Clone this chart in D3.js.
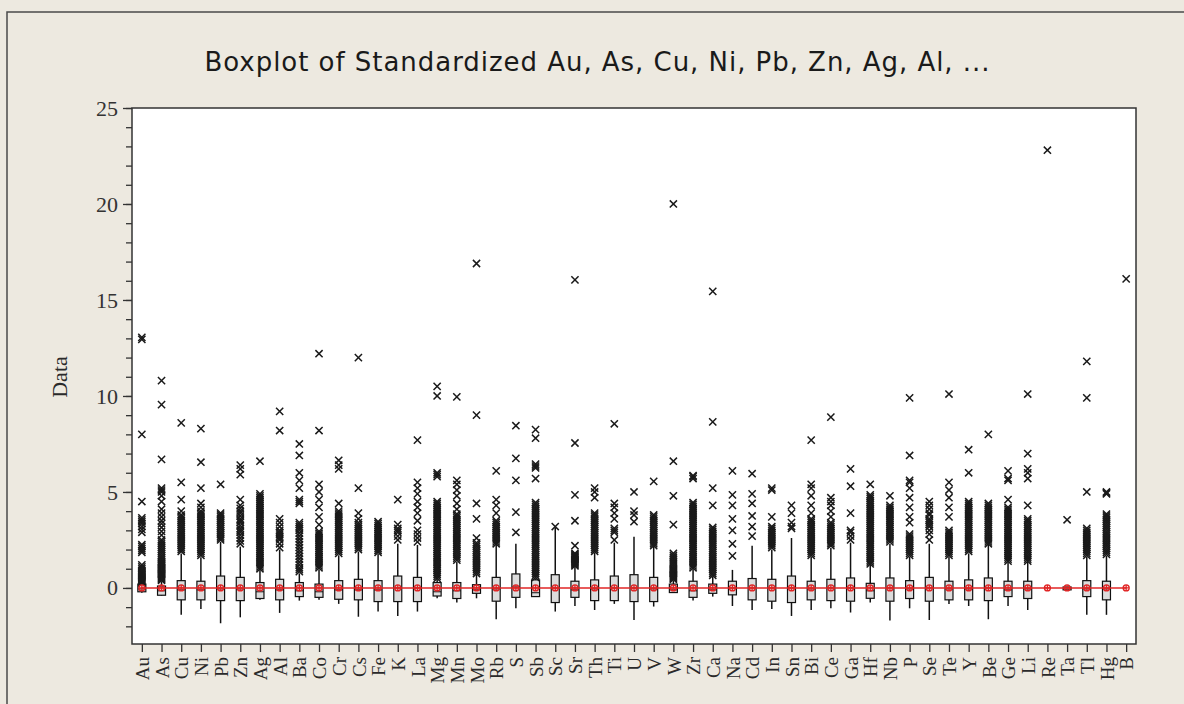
<!DOCTYPE html>
<html>
<head>
<meta charset="utf-8">
<script src="https://cdn.jsdelivr.net/npm/d3@7"></script>
<style>
  html, body { margin: 0; padding: 0; background: #ede9e0; }
  svg { display: block; }
</style>
</head>
<body>
<svg width="1184" height="704"></svg>
<script>
(function() {

// element names, left to right
var elements = ["Au","As","Cu","Ni","Pb","Zn","Ag","Al","Ba","Co","Cr","Cs","Fe","K","La","Mg","Mn","Mo","Rb","S","Sb","Sc","Sr","Th","Ti","U","V","W","Zr","Ca","Na","Cd","In","Sn","Bi","Ce","Ga","Hf","Nb","P","Se","Te","Y","Be","Ge","Li","Re","Ta","Tl","Hg","B"];

// box statistics (standardized values)
var q1 =        [-0.2,-0.38,-0.62,-0.62,-0.66,-0.66,-0.55,-0.62,-0.45,-0.49,-0.59,-0.62,-0.71,-0.71,-0.71,-0.42,-0.55,-0.28,-0.69,-0.49,-0.45,-0.76,-0.49,-0.66,-0.66,-0.71,-0.71,-0.24,-0.49,-0.28,-0.36,-0.62,-0.69,-0.76,-0.62,-0.66,-0.69,-0.54,-0.69,-0.55,-0.69,-0.62,-0.62,-0.66,-0.45,-0.55,0,-0.1,-0.45,-0.62,0];
var median =    [-0.05,-0.15,-0.1,-0.1,-0.05,-0.05,-0.2,-0.1,-0.15,-0.2,-0.1,-0.1,-0.1,0,0,-0.2,-0.15,-0.1,-0.05,0.05,-0.25,0,-0.1,-0.05,0,0,-0.05,-0.1,-0.15,-0.1,0,0,0,0,-0.05,0,0,-0.15,0,-0.05,0,-0.05,-0.05,0,-0.1,-0.05,0,0,-0.05,-0.05,0];
var q3 =        [0.2,0.1,0.38,0.35,0.62,0.55,0.28,0.45,0.28,0.2,0.38,0.45,0.38,0.62,0.55,0.28,0.28,0.17,0.55,0.73,0.42,0.69,0.35,0.42,0.62,0.69,0.55,0.2,0.35,0.2,0.35,0.49,0.45,0.62,0.35,0.45,0.52,0.24,0.52,0.38,0.55,0.35,0.42,0.52,0.35,0.35,0,0.05,0.38,0.35,0];
var whiskerLo = [-0.25,-0.4,-1.4,-1.1,-1.84,-1.53,-0.62,-1.3,-0.66,-0.62,-0.83,-1.5,-1.23,-1.46,-1.23,-0.54,-0.76,-0.54,-1.63,-1.06,-0.45,-1.23,-0.94,-1.15,-0.83,-1.67,-0.97,-0.26,-0.66,-0.45,-0.94,-1.15,-1.1,-1.46,-1.15,-1.06,-1.28,-0.76,-1.7,-1.06,-1.67,-0.83,-0.94,-1.63,-0.94,-1.15,0,-0.1,-1.4,-1.4,0];
var whiskerHi = [0.22,0.35,1.8,1.6,2.4,2.15,0.94,2.0,0.76,0.97,1.7,1.9,1.77,2.3,2.24,0.45,1.37,0.68,2.24,2.3,0.5,3.15,1.1,1.84,2.36,2.67,2.15,0.4,1.0,0.6,0.94,2.2,2.0,2.6,1.63,2.1,2.36,1.2,2.3,1.63,2.3,1.63,1.8,2.24,1.37,1.37,0,0.05,1.63,1.67,0];
var means = [0,0,0,0,0,0,0,0,0,0,0,0,0,0,0,0,0,0,0,0,0,0,0,0,0,0,0,0,0,0,0,0,0,0,0,0,0,0,0,0,0,0,0,0,0,0,0,0,0,0,0];

// outliers per element
var outliers = [
  [0.25,0.3,0.35,0.4,0.45,0.5,0.55,0.6,0.65,0.7,0.75,0.8,0.85,0.9,1.0,1.1,1.2,1.85,1.95,2.05,2.15,2.25,2.9,3.05,3.2,3.35,3.45,3.55,3.65,4.5,8.0,12.95,13.05],
  [0.4,0.45,0.5,0.55,0.6,0.65,0.7,0.75,0.8,0.85,0.9,0.95,1.0,1.05,1.1,1.15,1.2,1.25,1.3,1.35,1.4,1.5,1.6,1.7,1.8,1.9,2.0,2.1,2.2,2.3,2.4,2.5,2.75,2.95,3.15,3.35,3.5,3.7,3.9,4.1,4.5,4.8,5.0,5.1,5.2,6.7,9.55,10.8],
  [1.9,2.0,2.1,2.2,2.3,2.4,2.5,2.6,2.7,2.8,2.9,3.0,3.1,3.2,3.3,3.4,3.5,3.6,3.7,3.8,4.0,4.6,5.5,8.6],
  [1.7,1.8,1.9,2.0,2.1,2.2,2.3,2.4,2.5,2.6,2.7,2.8,2.9,3.0,3.1,3.2,3.3,3.4,3.5,3.6,3.7,3.8,3.9,4.0,4.2,4.4,5.2,6.55,8.3],
  [2.5,2.6,2.7,2.8,2.9,3.0,3.1,3.2,3.3,3.4,3.5,3.6,3.7,3.8,3.9,5.4],
  [2.3,2.45,2.6,2.75,2.9,3.0,3.1,3.25,3.4,3.5,3.6,3.75,3.9,4.0,4.15,4.3,4.6,5.9,6.2,6.4],
  [1.0,1.1,1.2,1.3,1.4,1.5,1.6,1.7,1.8,1.9,2.0,2.1,2.2,2.3,2.4,2.5,2.6,2.7,2.8,2.9,3.0,3.1,3.2,3.3,3.4,3.5,3.6,3.7,3.8,3.9,4.0,4.1,4.2,4.3,4.4,4.5,4.6,4.7,4.8,4.9,6.6],
  [2.1,2.3,2.5,2.6,2.7,2.8,2.9,3.0,3.2,3.4,3.6,8.2,9.2],
  [0.85,0.95,1.05,1.2,1.35,1.5,1.65,1.8,1.95,2.1,2.25,2.4,2.55,2.7,2.85,3.0,3.1,3.2,3.3,3.4,4.4,4.5,4.6,5.2,5.6,6.0,6.9,7.5],
  [1.05,1.15,1.25,1.35,1.45,1.55,1.65,1.75,1.85,1.95,2.05,2.15,2.25,2.35,2.45,2.55,2.65,2.75,2.85,2.95,3.3,3.7,4.2,4.6,5.0,5.4,8.2,12.2],
  [1.8,1.9,2.0,2.1,2.2,2.3,2.4,2.5,2.6,2.7,2.8,2.9,3.0,3.1,3.2,3.3,3.4,3.5,3.6,3.7,3.8,3.9,4.0,4.4,6.2,6.4,6.65],
  [2.0,2.1,2.2,2.3,2.4,2.5,2.6,2.7,2.8,2.9,3.0,3.1,3.2,3.3,3.4,3.6,3.9,5.2,12.0],
  [1.85,1.95,2.05,2.15,2.25,2.35,2.45,2.55,2.65,2.75,2.85,2.95,3.05,3.15,3.25,3.35,3.45],
  [2.5,2.7,2.9,3.0,3.1,3.3,4.6],
  [2.4,2.6,2.8,3.0,3.5,3.9,4.2,4.5,4.9,5.2,5.5,7.7],
  [0.5,0.6,0.7,0.8,0.9,1.0,1.1,1.2,1.3,1.4,1.5,1.6,1.7,1.8,1.9,2.0,2.1,2.2,2.3,2.4,2.5,2.6,2.7,2.8,2.9,3.0,3.1,3.2,3.3,3.4,3.5,3.6,3.7,3.8,3.9,4.0,4.1,4.2,4.3,4.4,4.5,5.8,5.9,6.0,10.0,10.5],
  [1.45,1.55,1.65,1.75,1.85,1.95,2.05,2.15,2.25,2.35,2.45,2.55,2.65,2.75,2.85,2.95,3.05,3.15,3.25,3.35,3.45,3.55,3.65,3.75,3.85,4.1,4.4,4.8,5.1,5.4,5.6,9.95],
  [0.75,0.85,0.95,1.05,1.15,1.25,1.35,1.45,1.55,1.65,1.75,1.85,1.95,2.05,2.15,2.25,2.35,2.6,3.6,4.4,9.0,16.9],
  [2.3,2.4,2.5,2.6,2.7,2.8,2.9,3.0,3.1,3.2,3.3,3.4,3.5,3.9,4.3,4.6,6.1],
  [2.9,3.95,5.6,6.75,8.45],
  [0.55,0.65,0.75,0.85,0.95,1.05,1.15,1.25,1.35,1.45,1.55,1.65,1.75,1.85,1.95,2.05,2.15,2.25,2.35,2.45,2.55,2.65,2.75,2.85,2.95,3.05,3.15,3.25,3.35,3.45,3.55,3.65,3.75,3.85,3.95,4.05,4.15,4.25,4.35,4.45,5.7,6.25,6.35,6.45,7.8,8.25],
  [3.2],
  [1.15,1.2,1.25,1.3,1.35,1.4,1.45,1.5,1.55,1.6,1.65,1.7,1.75,1.8,2.2,3.5,4.85,7.55,16.05],
  [1.9,2.0,2.1,2.2,2.3,2.4,2.5,2.6,2.7,2.8,2.9,3.0,3.1,3.2,3.3,3.4,3.5,3.6,3.7,3.8,3.9,4.7,5.0,5.2],
  [2.5,2.9,3.0,3.1,3.6,3.9,4.2,4.4,8.55],
  [3.45,3.8,4.0,5.0],
  [2.2,2.3,2.4,2.5,2.6,2.7,2.8,2.9,3.0,3.1,3.2,3.3,3.4,3.5,3.6,3.7,3.8,5.55],
  [0.45,0.5,0.55,0.6,0.65,0.7,0.75,0.8,0.85,0.9,0.95,1.0,1.1,1.2,1.3,1.4,1.5,1.6,1.7,1.8,3.3,4.8,6.6,20.0],
  [1.05,1.15,1.25,1.35,1.45,1.55,1.65,1.75,1.85,1.95,2.05,2.15,2.25,2.35,2.45,2.55,2.65,2.75,2.85,2.95,3.05,3.15,3.25,3.35,3.45,3.55,3.65,3.75,3.85,3.95,4.05,4.15,4.25,4.35,4.45,5.7,5.8,5.85],
  [0.65,0.75,0.85,0.95,1.05,1.15,1.25,1.35,1.45,1.55,1.65,1.75,1.85,1.95,2.05,2.15,2.25,2.35,2.45,2.55,2.65,2.75,2.85,2.95,3.05,3.15,4.3,5.2,8.65,15.45],
  [1.67,2.3,3.0,3.6,4.3,4.85,6.1],
  [2.7,3.2,3.75,4.4,4.9,5.95],
  [2.1,2.2,2.3,2.4,2.5,2.6,2.7,2.8,2.9,3.0,3.1,3.2,3.7,5.1,5.2],
  [3.1,3.2,3.4,3.9,4.3],
  [1.7,1.8,1.9,2.0,2.1,2.2,2.3,2.4,2.5,2.6,2.7,2.8,2.9,3.0,3.1,3.2,3.3,3.4,3.5,3.6,3.9,4.3,4.8,5.2,5.4,7.7],
  [2.2,2.3,2.4,2.5,2.6,2.7,2.8,2.9,3.0,3.1,3.2,3.3,3.4,3.7,4.0,4.3,4.5,4.7,8.9],
  [2.5,2.7,2.9,3.0,3.9,5.3,6.2],
  [1.25,1.35,1.45,1.55,1.65,1.75,1.85,1.95,2.05,2.15,2.25,2.35,2.45,2.55,2.65,2.75,2.85,2.95,3.05,3.15,3.25,3.35,3.45,3.55,3.65,3.75,3.85,3.95,4.05,4.15,4.25,4.35,4.45,4.55,4.65,4.75,4.85,5.4],
  [2.4,2.5,2.6,2.7,2.8,2.9,3.0,3.1,3.2,3.3,3.4,3.5,3.6,3.7,3.8,3.9,4.0,4.1,4.2,4.3,4.8],
  [1.7,1.8,1.9,2.0,2.1,2.2,2.3,2.4,2.5,2.6,2.7,2.8,3.4,3.7,4.2,4.7,5.2,5.5,5.6,6.9,9.9],
  [2.5,2.8,3.0,3.2,3.3,3.4,3.5,3.6,3.8,3.9,4.1,4.3,4.5],
  [1.7,1.8,1.9,2.0,2.1,2.2,2.3,2.4,2.5,2.6,2.7,2.8,2.9,3.0,3.7,4.2,4.7,5.1,5.5,10.1],
  [1.9,2.0,2.1,2.2,2.3,2.4,2.5,2.6,2.7,2.8,2.9,3.0,3.1,3.2,3.3,3.4,3.5,3.6,3.7,3.8,3.9,4.0,4.1,4.2,4.3,4.4,4.5,6.0,7.2],
  [2.3,2.4,2.5,2.6,2.7,2.8,2.9,3.0,3.1,3.2,3.3,3.4,3.5,3.6,3.7,3.8,3.9,4.0,4.1,4.2,4.3,4.4,8.0],
  [1.4,1.5,1.6,1.7,1.8,1.9,2.0,2.1,2.2,2.3,2.4,2.5,2.6,2.7,2.8,2.9,3.0,3.1,3.2,3.3,3.4,3.5,3.6,3.7,3.8,3.9,4.0,4.1,4.2,4.6,5.6,5.7,6.1],
  [1.4,1.5,1.6,1.7,1.8,1.9,2.0,2.1,2.2,2.3,2.4,2.5,2.6,2.7,2.8,2.9,3.0,3.1,3.2,3.3,3.4,3.5,3.6,4.3,5.7,6.0,6.2,7.0,10.1],
  [22.8],
  [3.55],
  [1.7,1.8,1.9,2.0,2.1,2.2,2.3,2.4,2.5,2.6,2.7,2.8,2.9,3.0,3.1,5.0,9.9,11.8],
  [1.75,1.85,1.95,2.05,2.15,2.25,2.35,2.45,2.55,2.65,2.75,2.85,2.95,3.05,3.15,3.25,3.35,3.45,3.55,3.65,3.75,3.85,4.9,4.95,5.0],
  [16.1]
];

var yMajor = [0, 5, 10, 15, 20, 25];

var titleText = "Boxplot of Standardized Au, As, Cu, Ni, Pb, Zn, Ag, Al, ...";

var svg = d3.select("svg"),
    width = 1184,
    height = 704;

var plot = {left: 132, right: 1136, top: 108, bottom: 644};

var serif = "'Liberation Serif', 'Times New Roman', serif";

// page background + outer frame
svg.append("rect").attr("width", width).attr("height", height).attr("fill", "#ede9e0");
svg.append("rect")
    .attr("x", 7).attr("y", 12).attr("width", 1300).attr("height", 900)
    .attr("fill", "none").attr("stroke", "#4a4a4a").attr("stroke-width", 1.5);

svg.append("rect")
    .attr("x", plot.left).attr("y", plot.top)
    .attr("width", plot.right - plot.left).attr("height", plot.bottom - plot.top)
    .attr("fill", "#ffffff");

var x = d3.scalePoint().domain(elements).range([plot.left, plot.right]).padding(0.5);
var y = d3.scaleLinear().domain([-2.92, 25]).range([plot.bottom, plot.top]);

var rows = elements.map(function(e, i) {
    return {name: e, q1: q1[i], med: median[i], q3: q3[i], lo: whiskerLo[i], hi: whiskerHi[i], mean: means[i], out: outliers[i]};
});

var boxW = 8;
var g = svg.append("g");

// whiskers
g.selectAll("line.whisker")
    .data(rows)
    .enter().append("line")
    .attr("class", "whisker")
    .attr("x1", function(d) { return x(d.name); })
    .attr("x2", function(d) { return x(d.name); })
    .attr("y1", function(d) { return y(d.lo); })
    .attr("y2", function(d) { return y(d.hi); })
    .attr("stroke", "#111").attr("stroke-width", 1.5);

// boxes
g.selectAll("rect.box")
    .data(rows.filter(function(d) { return d.q3 > d.q1; }))
    .enter().append("rect")
    .attr("class", "box")
    .attr("x", function(d) { return x(d.name) - boxW / 2; })
    .attr("width", boxW)
    .attr("y", function(d) { return y(d.q3); })
    .attr("height", function(d) { return y(d.q1) - y(d.q3); })
    .attr("fill", "#dcdcdc").attr("stroke", "#111").attr("stroke-width", 1.2);

g.selectAll("line.median")
    .data(rows.filter(function(d) { return d.q3 > d.q1; }))
    .enter().append("line")
    .attr("class", "median")
    .attr("x1", function(d) { return x(d.name) - boxW / 2; })
    .attr("x2", function(d) { return x(d.name) + boxW / 2; })
    .attr("y1", function(d) { return y(d.med); })
    .attr("y2", function(d) { return y(d.med); })
    .attr("stroke", "#111").attr("stroke-width", 1);

// outliers as x symbols
var pts = [];
rows.forEach(function(d) {
    d.out.forEach(function(v) { pts.push({name: d.name, v: v}); });
});
var s = 3.6;
g.selectAll("path.out")
    .data(pts)
    .enter().append("path")
    .attr("class", "out")
    .attr("d", function(d) {
        var cx = x(d.name), cy = y(d.v);
        return "M" + (cx - s) + "," + (cy - s) + "L" + (cx + s) + "," + (cy + s) +
               "M" + (cx - s) + "," + (cy + s) + "L" + (cx + s) + "," + (cy - s);
    })
    .attr("stroke", "#1a1a1a").attr("stroke-width", 1.5).attr("fill", "none");

// mean connect line + mean symbols
var meanLine = d3.line()
    .x(function(d) { return x(d.name); })
    .y(function(d) { return y(d.mean); });

g.append("path")
    .datum(rows)
    .attr("d", meanLine)
    .attr("fill", "none").attr("stroke", "#e02424").attr("stroke-width", 1.6);

var mk = g.selectAll("g.mean").data(rows).enter().append("g")
    .attr("class", "mean")
    .attr("transform", function(d) { return "translate(" + x(d.name) + "," + y(d.mean) + ")"; });
mk.append("circle").attr("r", 3).attr("fill", "none").attr("stroke", "#e02424").attr("stroke-width", 1.3);
mk.append("path").attr("d", "M-3,0H3M0,-3V3").attr("stroke", "#e02424").attr("stroke-width", 1.3);

// plot frame
svg.append("rect")
    .attr("x", plot.left).attr("y", plot.top)
    .attr("width", plot.right - plot.left).attr("height", plot.bottom - plot.top)
    .attr("fill", "none").attr("stroke", "#333").attr("stroke-width", 1.5);

// y axis: minor ticks then major with labels
svg.append("g")
    .attr("transform", "translate(" + plot.left + ",0)")
    .call(d3.axisLeft(y).tickValues(d3.range(-2, 26)).tickSize(6).tickFormat(""))
    .call(function(a) { a.select(".domain").remove(); a.selectAll("line").attr("stroke", "#333").attr("stroke-width", 1.3); });

var yAxis = svg.append("g")
    .attr("transform", "translate(" + plot.left + ",0)")
    .call(d3.axisLeft(y).tickValues(yMajor).tickSize(9).tickPadding(5));
yAxis.select(".domain").remove();
yAxis.selectAll("line").attr("stroke", "#333").attr("stroke-width", 1.3);
yAxis.selectAll("text")
    .attr("font-family", serif).attr("font-size", 22).attr("fill", "#333");

// x axis
var xAxis = svg.append("g")
    .attr("transform", "translate(0," + plot.bottom + ")")
    .call(d3.axisBottom(x).tickSize(8).tickPadding(4));
xAxis.select(".domain").remove();
xAxis.selectAll("line").attr("stroke", "#333").attr("stroke-width", 1.3);
xAxis.selectAll("text")
    .attr("font-family", serif).attr("font-size", 19).attr("fill", "#2a2a2a")
    .attr("text-anchor", "end")
    .attr("dy", "0.35em")
    .attr("transform", "translate(0,13) rotate(-90)")
    .attr("x", 0).attr("y", 0);

// y label
svg.append("text")
    .attr("transform", "translate(67,377) rotate(-90)")
    .attr("text-anchor", "middle")
    .attr("font-family", serif).attr("font-size", 22).attr("fill", "#2a2a2a")
    .text("Data");

// title
svg.append("text")
    .attr("x", 597).attr("y", 71)
    .attr("text-anchor", "middle")
    .attr("font-family", "'DejaVu Sans', Verdana, sans-serif")
    .attr("font-size", 26).attr("fill", "#1a1a1a")
    .attr("textLength", 785).attr("lengthAdjust", "spacing")
    .text(titleText);

})();
</script>
</body>
</html>
